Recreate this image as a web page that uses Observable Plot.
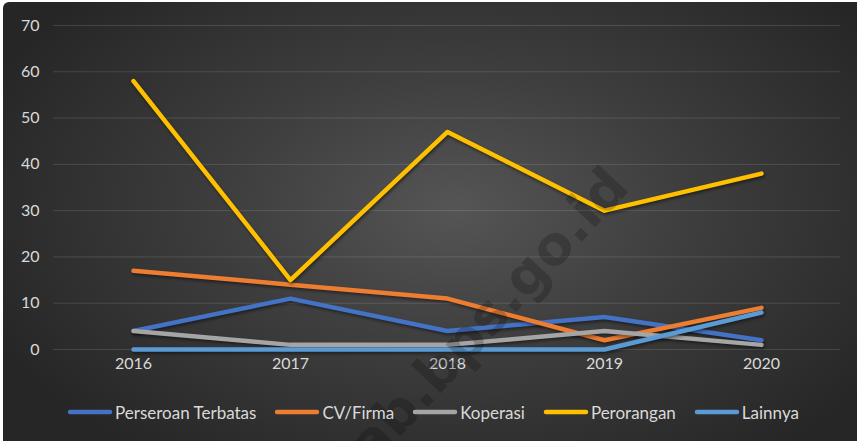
<!DOCTYPE html>
<html>
<head>
<meta charset="utf-8">
<script src="https://cdn.jsdelivr.net/npm/d3@7"></script>
<script src="https://cdn.jsdelivr.net/npm/@observablehq/plot@0.6"></script>
<style>
  html, body { margin: 0; padding: 0; background: #ffffff; }
  #chart {
    position: absolute; left: 3px; top: 2px; width: 854px; height: 439px;
    overflow: hidden; border-top-left-radius: 6px;
    background: radial-gradient(ellipse 60% 70% at 53% 47%, #555555 0%, #3e3e3e 45%, #262626 100%);
    font-family: Lato, "Open Sans", sans-serif;
  }
  #chart svg.plot { position: absolute; left: 0; top: 0; background: transparent; }
  #wm { position: absolute; left: 0; top: 0; pointer-events: none; }
  #legend {
    position: absolute; left: 3px; top: 399px; width: 854px; height: 22px;
    display: flex; justify-content: center; align-items: center; gap: 18px;
    color: #d9d9d9; font-size: 17px; font-family: Lato, "Open Sans", sans-serif;
  }
  #legend .item { display: flex; align-items: center; gap: 2px; }
  #legend svg { display: block; }
  .series path { filter: drop-shadow(1px 2px 1.5px rgba(0,0,0,0.45)); }
</style>
</head>
<body>
<div id="chart"></div>
<script>
const years = ["2016", "2017", "2018", "2019", "2020"];
const seriesNames = ["Perseroan Terbatas", "CV/Firma", "Koperasi", "Perorangan", "Lainnya"];
const seriesColors = ["#4472C4", "#ED7D31", "#A5A5A5", "#FFC000", "#5B9BD5"];
const perseroanTerbatas = [4, 11, 4, 7, 2];
const cvFirma = [17, 14, 11, 2, 9];
const koperasi = [4, 1, 1, 4, 1];
const perorangan = [58, 15, 47, 30, 38];
const lainnya = [0, 0, 0, 0, 8];
const yTicks = [0, 10, 20, 30, 40, 50, 60, 70];
const watermark = "jab.bps.go.id";

const valuesList = [perseroanTerbatas, cvFirma, koperasi, perorangan, lainnya];
const data = [];
seriesNames.forEach((s, i) => {
  years.forEach((y, j) => data.push({series: s, year: y, value: valuesList[i][j]}));
});

const W = 854, H = 375;
const plot = Plot.plot({
  width: W, height: H,
  marginLeft: 50, marginRight: 17, marginTop: 23, marginBottom: 28,
  style: {background: "transparent", color: "#d9d9d9", fontSize: "16px", fontFamily: "Lato, 'Open Sans', sans-serif"},
  x: {type: "point", domain: years, padding: 0.5, label: null},
  y: {domain: [0, 70], label: null},
  color: {domain: seriesNames, range: seriesColors},
  marks: [
    Plot.gridY(yTicks, {stroke: "#ffffff", strokeOpacity: 0.13, strokeWidth: 1}),
    Plot.axisY(yTicks, {tickSize: 0, tickPadding: 14, fill: "#d9d9d9", label: null}),
    Plot.axisX({tickSize: 0, tickPadding: 8, fill: "#d9d9d9", label: null}),
    Plot.line(data, {x: "year", y: "value", z: "series", stroke: "series", strokeWidth: 4.5,
      strokeLinejoin: "round", strokeLinecap: "round", className: "series"})
  ]
});
plot.classList.add("plot");
const chart = document.getElementById("chart");
chart.appendChild(plot);

// watermark
const ns = "http://www.w3.org/2000/svg";
const wm = document.createElementNS(ns, "svg");
wm.setAttribute("id", "wm");
wm.setAttribute("width", 854); wm.setAttribute("height", 439);
const t = document.createElementNS(ns, "text");
t.setAttribute("transform", "translate(628,187) rotate(-47)");
t.setAttribute("text-anchor", "end");
t.setAttribute("font-family", "DejaVu Sans, sans-serif");
t.setAttribute("font-weight", "bold");
t.setAttribute("font-size", "54");
t.setAttribute("fill", "rgba(0,0,0,0.2)");
t.textContent = watermark;
wm.appendChild(t);
chart.appendChild(wm);

// legend
const legend = document.createElement("div");
legend.id = "legend";
seriesNames.forEach((s, i) => {
  const item = document.createElement("div");
  item.className = "item";
  item.innerHTML = `<svg width="46" height="8"><line x1="3" y1="4" x2="43" y2="4" stroke="${seriesColors[i]}" stroke-width="4.5" stroke-linecap="round"/></svg><span>${s}</span>`;
  legend.appendChild(item);
});
chart.appendChild(legend);
</script>
</body>
</html>
